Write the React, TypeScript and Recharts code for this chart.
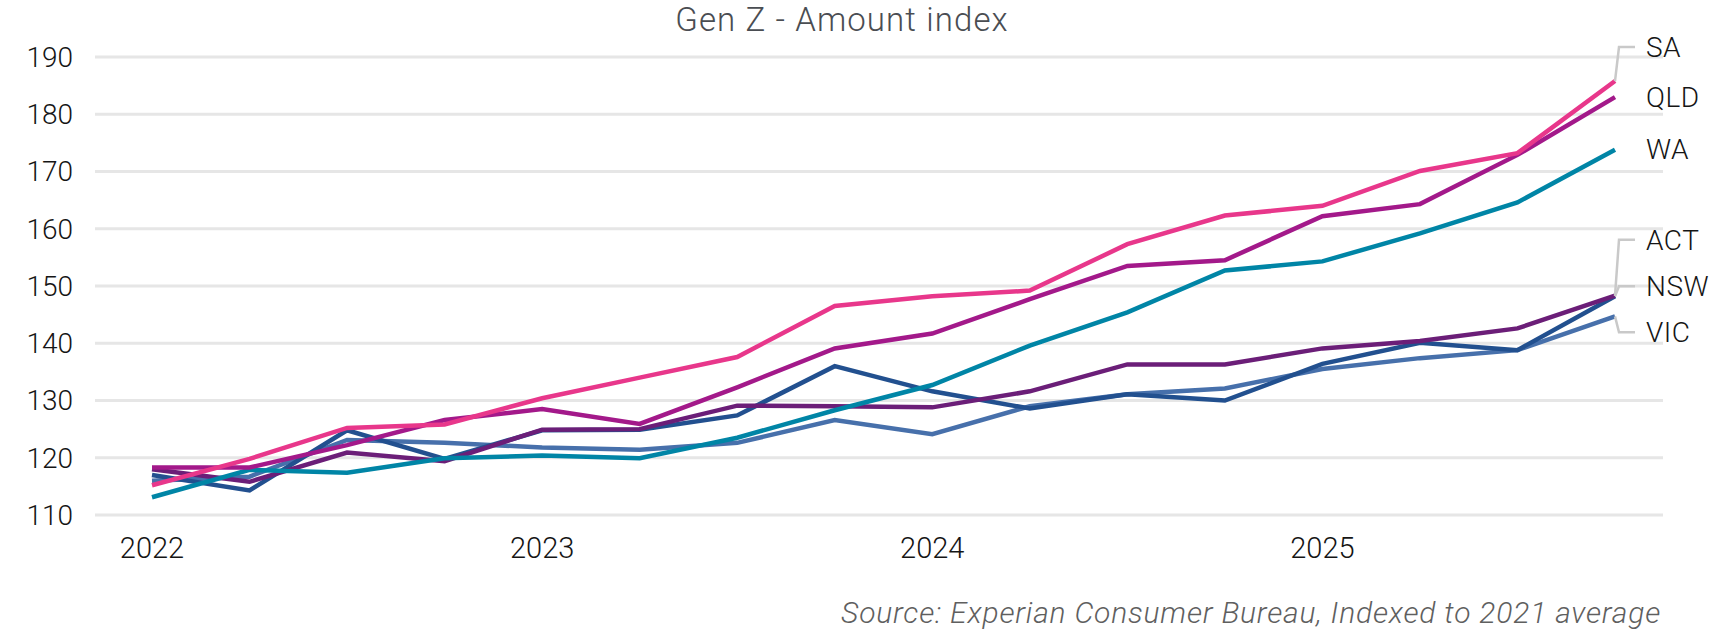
import * as React from 'react';
import { LineChart, Line, XAxis, YAxis, CartesianGrid, LabelList } from 'recharts';

const QUARTERS = [
  '2022Q1', '2022Q2', '2022Q3', '2022Q4',
  '2023Q1', '2023Q2', '2023Q3', '2023Q4',
  '2024Q1', '2024Q2', '2024Q3', '2024Q4',
  '2025Q1', '2025Q2', '2025Q3', '2025Q4',
];
const YEAR_TICKS = ['2022Q1', '2023Q1', '2024Q1', '2025Q1'];
const Y_TICKS = [110, 120, 130, 140, 150, 160, 170, 180, 190];

const SA = [115.2, 119.8, 125.2, 125.8, 130.4, 134.0, 137.6, 146.5, 148.2, 149.2, 157.3, 162.3, 164.0, 170.1, 173.2, 185.8];
const QLD = [118.3, 118.3, 122.2, 126.6, 128.5, 125.9, 132.3, 139.1, 141.7, 147.7, 153.5, 154.5, 162.2, 164.3, 172.9, 183.0];
const WA = [113.1, 117.9, 117.4, 119.9, 120.4, 119.9, 123.5, 128.3, 132.7, 139.6, 145.4, 152.7, 154.3, 159.2, 164.6, 173.8];
const ACT = [118.0, 115.8, 120.9, 119.4, 124.9, 125.0, 129.1, 129.0, 128.8, 131.6, 136.3, 136.3, 139.1, 140.4, 142.6, 148.3];
const NSW = [117.0, 114.3, 124.8, 119.8, 124.8, 124.9, 127.4, 136.0, 131.6, 128.6, 131.1, 130.0, 136.4, 140.1, 138.8, 148.2];
const VIC = [116.0, 116.7, 123.1, 122.6, 121.8, 121.4, 122.6, 126.6, 124.1, 129.0, 131.1, 132.1, 135.5, 137.4, 138.8, 144.7];

// drawn back to front
const SERIES = [
  { key: 'VIC', values: VIC, color: '#4770ab', labelDy: 16 },
  { key: 'NSW', values: NSW, color: '#22508f', labelDy: -10 },
  { key: 'ACT', values: ACT, color: '#6b1e78', labelDy: -56 },
  { key: 'WA', values: WA, color: '#0085a6', labelDy: -1 },
  { key: 'QLD', values: QLD, color: '#a3198a', labelDy: 0 },
  { key: 'SA', values: SA, color: '#e8378b', labelDy: -34 },
];

const FONT = 'Roboto, "DejaVu Sans", sans-serif';

const data = QUARTERS.map((q, i) => {
  const row: Record<string, string | number> = { quarter: q };
  SERIES.forEach((s) => {
    row[s.key] = s.values[i];
  });
  return row;
});

function makeEndLabel(name: string, dy: number) {
  return function EndLabel(props: any) {
    const { index } = props;
    if (index !== QUARTERS.length - 1) return null;
    const x = props.x ?? props.viewBox?.x;
    const y = props.y ?? props.viewBox?.y;
    const ty = y + dy;
    const hasConnector = Math.abs(dy) > 4;
    return (
      <g>
        {hasConnector && (
          <polyline
            points={`${x},${y} ${x + 4},${ty} ${x + 20},${ty}`}
            fill="none"
            stroke="#c9c9c9"
            strokeWidth={2.5}
          />
        )}
        <text
          x={x + 31}
          y={ty}
          dy="0.36em"
          fontFamily={FONT}
          fontWeight={300}
          fontSize={28}
          letterSpacing={0.5}
          fill="#151515"
        >
          {name}
        </text>
      </g>
    );
  };
}

export default function App() {
  return (
    <div style={{ position: 'absolute', left: 0, top: 0, width: 1726, height: 638, background: '#fff' }}>
      <LineChart
        width={1726}
        height={638}
        data={data}
        margin={{ top: 57, right: 63, bottom: 83, left: 0 }}
      >
        <CartesianGrid vertical={false} stroke="#e6e6e6" strokeWidth={3} />
        <XAxis
          dataKey="quarter"
          ticks={YEAR_TICKS}
          tickFormatter={(v: string) => v.slice(0, 4)}
          padding={{ left: 57, right: 48 }}
          axisLine={false}
          tickLine={false}
          tickSize={0}
          tickMargin={22}
          height={40}
          interval={0}
          tick={{ fontFamily: FONT, fontWeight: 300, fontSize: 29, fill: '#151515' }}
        />
        <YAxis
          domain={[110, 190]}
          ticks={Y_TICKS}
          axisLine={false}
          tickLine={false}
          tickSize={0}
          tickMargin={22}
          width={95}
          tick={{ fontFamily: FONT, fontWeight: 300, fontSize: 28, fill: '#151515' }}
        />
        {SERIES.map((s) => (
          <Line
            key={s.key}
            type="linear"
            dataKey={s.key}
            stroke={s.color}
            strokeWidth={4.5}
            dot={false}
            activeDot={false}
            isAnimationActive={false}
          >
            <LabelList dataKey={s.key} content={makeEndLabel(s.key, s.labelDy)} />
          </Line>
        ))}
      </LineChart>
      <svg
        width={1726}
        height={638}
        style={{ position: 'absolute', left: 0, top: 0, pointerEvents: 'none' }}
      >
        <text
          x={842}
          y={31}
          textAnchor="middle"
          fontFamily={FONT}
          fontWeight={300}
          fontSize={33}
          letterSpacing={1.1}
          fill="#4a4d52"
        >
          Gen Z - Amount index
        </text>
        <text
          x={1661}
          y={623}
          textAnchor="end"
          fontFamily={FONT}
          fontWeight={300}
          fontStyle="italic"
          fontSize={30}
          letterSpacing={0.8}
          fill="#5f5f5f"
        >
          Source: Experian Consumer Bureau, Indexed to 2021 average
        </text>
      </svg>
    </div>
  );
}
